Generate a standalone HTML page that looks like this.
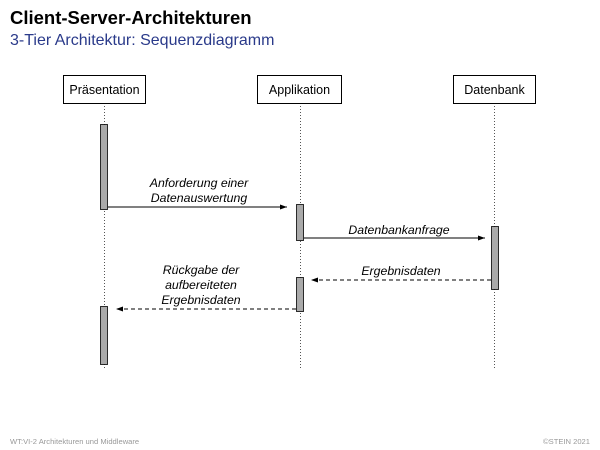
<!DOCTYPE html>
<html><head><meta charset="utf-8"><style>
html,body{margin:0;padding:0;background:#fff;width:600px;height:450px;overflow:hidden}
</style></head><body>
<svg width="600" height="450" viewBox="0 0 600 450" xmlns="http://www.w3.org/2000/svg" font-family="Liberation Sans, sans-serif">
<defs>
<marker id="a" markerWidth="8" markerHeight="6" refX="7" refY="3" orient="auto" markerUnits="userSpaceOnUse">
<path d="M0,0.5 L7,3 L0,5.5 Z" fill="#000"/></marker>
</defs>
<text x="10" y="24" font-size="18.5" font-weight="bold" fill="#000">Client-Server-Architekturen</text>
<text x="10" y="45" font-size="16" fill="#2a3a8a">3-Tier Architektur: Sequenzdiagramm</text>
<g stroke="#555" stroke-width="1" stroke-dasharray="1,2">
<line x1="104.5" y1="103" x2="104.5" y2="370"/>
<line x1="300.5" y1="103" x2="300.5" y2="370"/>
<line x1="494.5" y1="103" x2="494.5" y2="370"/>
</g>
<g fill="#fff" stroke="#000" stroke-width="1">
<rect x="63.5" y="75.5" width="82" height="28"/>
<rect x="257.5" y="75.5" width="84" height="28"/>
<rect x="453.5" y="75.5" width="82" height="28"/>
</g>
<g font-size="12.5" text-anchor="middle" fill="#000">
<text x="104.5" y="94">Präsentation</text>
<text x="299.5" y="94">Applikation</text>
<text x="494.5" y="94">Datenbank</text>
</g>
<g fill="#aaa" stroke="#000" stroke-width="0.8">
<rect x="100.5" y="124.5" width="7" height="85"/>
<rect x="100.5" y="306.5" width="7" height="58"/>
<rect x="296.5" y="204.5" width="7" height="36"/>
<rect x="296.5" y="277.5" width="7" height="34"/>
<rect x="491.5" y="226.5" width="7" height="63"/>
</g>
<g stroke="#000" stroke-width="1" fill="none">
<line x1="108" y1="207" x2="287" y2="207" marker-end="url(#a)"/>
<line x1="304" y1="238" x2="485" y2="238" marker-end="url(#a)"/>
<line x1="491" y1="280" x2="311" y2="280" stroke-dasharray="4,3" marker-end="url(#a)"/>
<line x1="296" y1="309" x2="116" y2="309" stroke-dasharray="4,3" marker-end="url(#a)"/>
</g>
<g font-size="12.3" font-style="italic" text-anchor="middle" fill="#000">
<text x="199" y="187">Anforderung einer</text>
<text x="199" y="202">Datenauswertung</text>
<text x="399" y="234">Datenbankanfrage</text>
<text x="401" y="275">Ergebnisdaten</text>
<text x="201" y="274">Rückgabe der</text>
<text x="201" y="289">aufbereiteten</text>
<text x="201" y="304">Ergebnisdaten</text>
</g>
<text x="10" y="444" font-size="7.6" fill="#999">WT:VI-2   Architekturen und Middleware</text>
<text x="590" y="444" font-size="7.6" fill="#999" text-anchor="end">©STEIN 2021</text>
</svg>
</body></html>
